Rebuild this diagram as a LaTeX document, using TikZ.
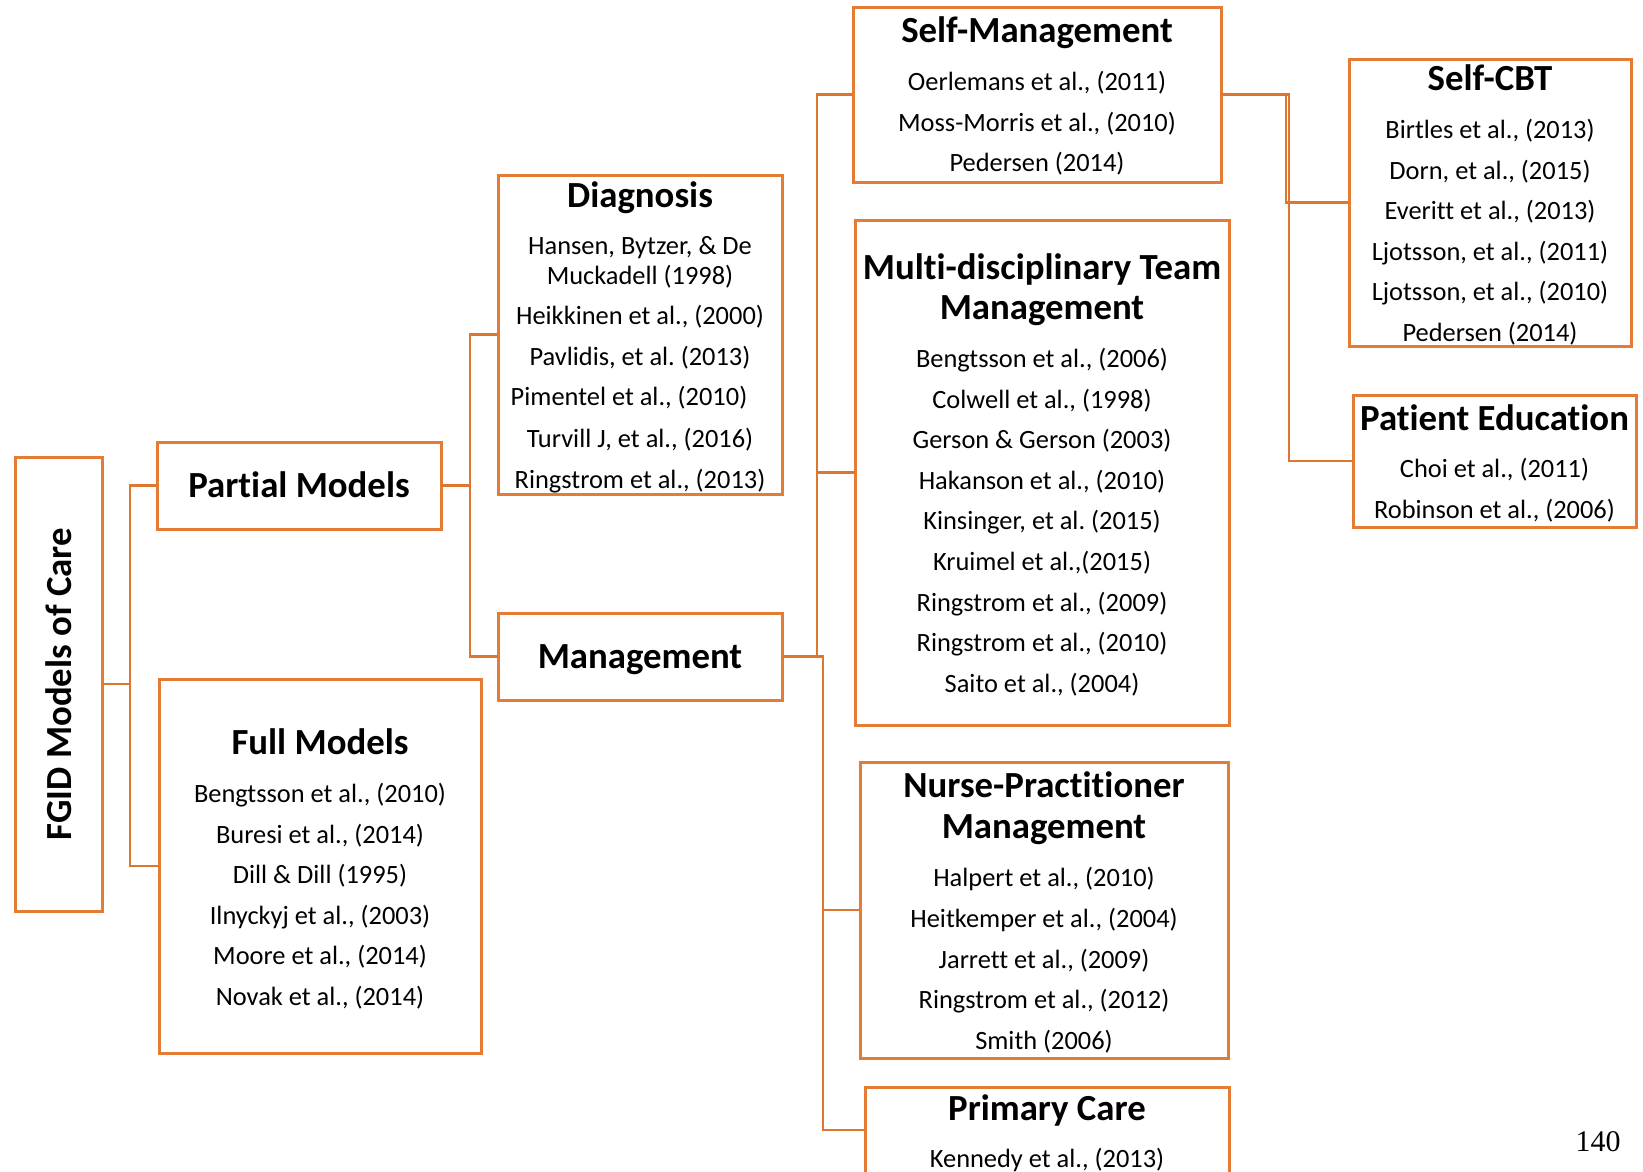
\documentclass[tikz,border=0pt]{standalone}
\usepackage{fontspec}
\setmainfont{Carlito}[Ligatures=NoCommon]
\newfontfamily\pagefont{Liberation Serif}
\frenchspacing
\definecolor{boxorange}{RGB}{228,124,54}
\definecolor{linkorange}{RGB}{222,118,48}
% a column of reference lines: name prefix, x centre, first y, step, entries
\newcommand\reflist[5]{%
  \foreach \t [count=\i from 0] in {#5} {\node[entry] (#1-\i) at (#2,{#3+#4*\i}) {\t};}}
\begin{document}
\begin{tikzpicture}[x=1pt,y=-1pt,
  box/.style={draw=boxorange, line width=3pt, inner sep=0pt, outer sep=0pt, rectangle},
  link/.style={draw=linkorange, line width=2.6pt},
  head/.style={font=\fontsize{36.8}{44}\selectfont\bfseries, inner sep=0pt, text height=33pt, text depth=8pt},
  entry/.style={font=\fontsize{26.4}{32}\selectfont, inner sep=0pt, text height=25pt, text depth=6pt}]
\useasboundingbox (0,0) rectangle (1643,1171);

% boxes
\node[box, minimum width=87pt,  minimum height=454pt] (fgid)    at (58.5,684)    {};
\node[box, minimum width=284pt, minimum height=87pt]  (partial) at (299,485.5)   {};
\node[box, minimum width=322pt, minimum height=374pt] (full)    at (320,866)     {};
\node[box, minimum width=284pt, minimum height=319pt] (diag)    at (640,334.5)   {};
\node[box, minimum width=284pt, minimum height=87pt]  (mgmt)    at (640,656.5)   {};
\node[box, minimum width=368pt, minimum height=175pt] (selfm)   at (1037,94.5)   {};
\node[box, minimum width=374pt, minimum height=505pt] (multi)   at (1042,472.5)  {};
\node[box, minimum width=368pt, minimum height=296pt] (nurse)   at (1044,910)    {};
\node[box, minimum width=364pt, minimum height=86pt]  (prim)    at (1047,1130)   {};
\node[box, minimum width=282pt, minimum height=287pt] (cbt)     at (1490,202.5)  {};
\node[box, minimum width=283pt, minimum height=132pt] (edu)     at (1494.5,461)  {};

% connectors
\draw[link] (fgid.east) -- ++(28,0) |- (partial.west);
\draw[link] (fgid.east) -- ++(28,0) |- (full.west);
\draw[link] (partial.east) -- ++(29,0) |- (diag.west);
\draw[link] (partial.east) -- ++(29,0) |- (mgmt.west);
\draw[link] (mgmt.east) -- ++(35,0) |- (selfm.west);
\draw[link] (mgmt.east) -- ++(35,0) |- (multi.west);
\draw[link] (mgmt.east) -- ++(41,0) |- (nurse.west);
\draw[link] (mgmt.east) -- ++(41,0) |- (prim.west);
\draw[link] (selfm.east) -- ++(65,0) |- (cbt.west);
\draw[link] (selfm.east) -- ++(68,0) |- (edu.west);

% headings
\node[head, rotate=90] (fgidt) at (58.5,684) {FGID Models of Care};
\node[head] (partialt) at (299,485) {Partial Models};
\node[head] (fullt)    at (320,742) {Full Models};
\node[head] (diagt)    at (640,195) {Diagnosis};
\node[head] (mgmtt)    at (640,656) {Management};
\node[head] (selfmt)   at (1037,30) {Self-Management};
\node[head] (multit1)  at (1042,267) {Multi-disciplinary Team};
\node[head] (multit2)  at (1042,307) {Management};
\node[head] (nurset1)  at (1044,785) {Nurse-Practitioner};
\node[head] (nurset2)  at (1044,826) {Management};
\node[head] (primt)    at (1047,1108) {Primary Care};
\node[head] (cbtt)     at (1490,78)  {Self-CBT};
\node[head] (edut)     at (1494.5,418) {Patient Education};

% references
\reflist{fullr}{320}{793}{40.6}{{Bengtsson et al., (2010)},{Buresi et al., (2014)},{Dill \& Dill (1995)},{Ilnyckyj et al., (2003)},{Moore et al., (2014)},{Novak et al., (2014)}}
\node[entry] (diagr-0) at (640,245) {Hansen, Bytzer, \& De};
\node[entry] (diagr-1) at (640,275) {Muckadell (1998)};
\node[entry] (diagr-2) at (640,315) {Heikkinen et al., (2000)};
\node[entry] (diagr-3) at (640,356) {Pavlidis, et al. (2013)};
\node[entry] (diagr-4) at (629,396) {Pimentel et al., (2010)};
\node[entry] (diagr-5) at (640,438) {Turvill J, et al., (2016)};
\node[entry] (diagr-6) at (640,479) {Ringstrom et al., (2013)};
\reflist{selfmr}{1037}{81}{40.5}{{Oerlemans et al., (2011)},{Moss-Morris et al., (2010)},{Pedersen (2014)}}
\reflist{multir}{1042}{358}{40.6}{{Bengtsson et al., (2006)},{Colwell et al., (1998)},{Gerson \& Gerson (2003)},{Hakanson et al., (2010)},{Kinsinger, et al. (2015)},{Kruimel et al.,(2015)},{Ringstrom et al., (2009)},{Ringstrom et al., (2010)},{Saito et al., (2004)}}
\reflist{nurser}{1044}{877}{40.75}{{Halpert et al., (2010)},{Heitkemper et al., (2004)},{Jarrett et al., (2009)},{Ringstrom et al., (2012)},{Smith (2006)}}
\node[entry] (primr-0) at (1047,1158) {Kennedy et al., (2013)};
\reflist{cbtr}{1490}{129}{40.6}{{Birtles et al., (2013)},{Dorn, et al., (2015)},{Everitt et al., (2013)},{Ljotsson, et al., (2011)},{Ljotsson, et al., (2010)},{Pedersen (2014)}}
\reflist{edur}{1494.5}{468}{41}{{Choi et al., (2011)},{Robinson et al., (2006)}}

% page number
\node[font=\pagefont\fontsize{30}{36}\selectfont, inner sep=0pt] (pageno) at (1598,1142) {140};
\end{tikzpicture}
\end{document}
